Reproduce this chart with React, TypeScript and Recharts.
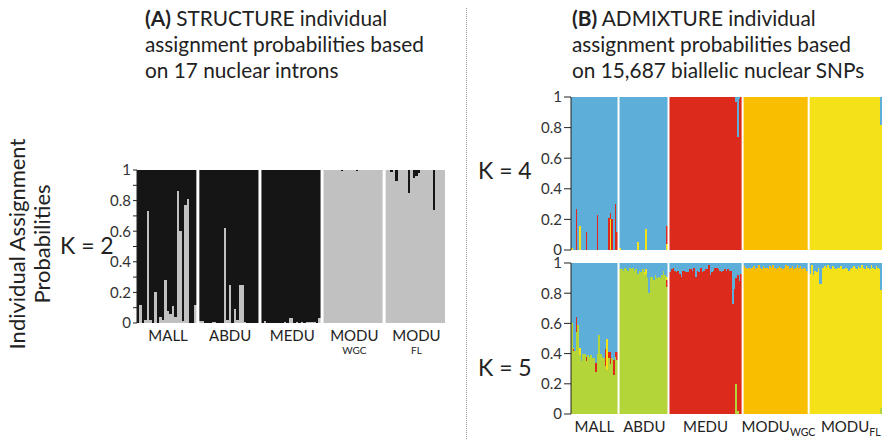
import React from "react";
import { BarChart, Bar, XAxis, YAxis, ReferenceLine } from "recharts";

const FONT = "Lato, 'Open Sans', sans-serif";

const groupNames = ["MALL", "ABDU", "MEDU", "MODU", "MODU"];
const groupSubs = ["", "", "", "WGC", "FL"];
const groupShift = [0, 0, 0, 2, 5];

// (A) STRUCTURE, K = 2: share of the grey cluster per individual, black is the rest
const strMallGrey = [0, 0.12, 0, 0.02, 0.73, 0.02, 0, 0.2, 0, 0.04, 0.02, 0.28, 0.08, 0.06, 0.11, 0.04, 0.86, 0.6, 0.01, 0.77, 0.81, 0, 0, 0.12];
const strAbduGrey = [0.01, 0.01, 0, 0, 0, 0.005, 0.005, 0, 0, 0, 0.62, 0.02, 0.25, 0, 0.09, 0.02, 0.25, 0.25, 0.005, 0, 0, 0, 0, 0];
const strMeduGrey = [0, 0.01, 0, 0, 0, 0, 0, 0, 0, 0.005, 0, 0.03, 0.03, 0, 0.005, 0, 0.005, 0, 0.005, 0.005, 0.005, 0.005, 0, 0.035];
const strWgcGrey = [1, 1, 1, 1, 1, 1, 1, 0.995, 1, 1, 1, 1, 1, 0.995, 1, 1, 1, 1, 1, 1, 1, 1, 1, 1];
const strFlGrey = [1, 1, 0.99, 1, 0.93, 1, 1, 1, 1, 0.85, 1, 0.95, 0.96, 0.98, 1, 1, 1, 1, 1, 0.74, 1, 1, 1, 1];

// (B) ADMIXTURE, sample sizes per group
const snpCounts = [29, 30, 45, 40, 45];

// K = 4: minor shares, the main cluster of each group takes the rest
const k4MallRed = [0, 0, 0, 0.27, 0, 0, 0, 0, 0, 0.12, 0, 0, 0, 0, 0, 0, 0.23, 0, 0, 0, 0, 0, 0, 0.21, 0.04, 0.2, 0, 0.3, 0.12];
const k4MallYellow = [0.01, 0, 0, 0, 0, 0.16, 0, 0, 0, 0, 0, 0, 0, 0, 0, 0, 0, 0, 0, 0, 0, 0, 0, 0, 0.2, 0, 0, 0, 0];
const k4AbduRed = [0, 0, 0, 0, 0, 0, 0, 0, 0, 0, 0, 0, 0, 0, 0, 0, 0, 0, 0, 0, 0, 0, 0, 0, 0, 0, 0, 0, 0, 0.12];
const k4AbduYellow = [0.01, 0, 0, 0, 0, 0, 0, 0, 0, 0, 0, 0.05, 0, 0, 0, 0, 0.14, 0, 0, 0, 0, 0, 0, 0, 0, 0, 0, 0, 0, 0.04];
const k4MeduBlue = [0, 0, 0, 0, 0, 0, 0, 0, 0, 0, 0, 0, 0, 0, 0, 0, 0, 0, 0, 0, 0, 0, 0, 0, 0, 0, 0, 0, 0, 0, 0, 0, 0, 0, 0, 0, 0, 0, 0, 0, 0, 0.03, 0.26, 0.01, 0];
const k4FlBlue = [0, 0, 0, 0, 0, 0, 0, 0, 0, 0, 0, 0, 0, 0, 0, 0, 0, 0, 0, 0, 0, 0, 0, 0, 0, 0, 0, 0, 0, 0, 0, 0, 0, 0, 0, 0, 0, 0, 0, 0, 0, 0, 0, 0, 0.18];

// K = 5: blue takes the rest in every group
const k5MallGreen = [0.6, 0.42, 0.42, 0.54, 0.59, 0.39, 0.35, 0.4, 0.4, 0.35, 0.39, 0.38, 0.39, 0.37, 0.37, 0.28, 0.4, 0.52, 0.4, 0.38, 0.37, 0.32, 0.29, 0.37, 0.33, 0.37, 0.26, 0.38, 0.36];
const k5MallRed = [0, 0.01, 0, 0.1, 0, 0, 0, 0, 0, 0.03, 0, 0, 0, 0, 0, 0.06, 0, 0, 0, 0, 0, 0.11, 0, 0.04, 0.08, 0, 0.1, 0.03, 0.05];
const k5MallYellow = [0, 0.01, 0, 0, 0, 0.05, 0, 0, 0, 0, 0, 0, 0, 0, 0, 0, 0, 0, 0, 0, 0, 0, 0.21, 0, 0, 0, 0, 0, 0];
const k5AbduGreen = [0.96, 0.96, 0.95, 0.97, 0.96, 0.95, 0.97, 0.96, 0.97, 0.95, 0.96, 0.93, 0.95, 0.94, 0.96, 0.92, 0.93, 0.9, 0.8, 0.91, 0.91, 0.89, 0.92, 0.9, 0.91, 0.9, 0.92, 0.95, 0.92, 0.84];
const k5AbduRed = [0, 0, 0, 0, 0, 0, 0, 0, 0, 0, 0, 0, 0, 0, 0, 0, 0, 0, 0, 0, 0, 0, 0, 0, 0, 0, 0, 0, 0, 0.05];
const k5AbduYellow = [0, 0, 0, 0, 0, 0, 0, 0, 0, 0, 0, 0, 0, 0, 0, 0.02, 0.03, 0, 0, 0, 0, 0, 0, 0, 0, 0, 0, 0, 0, 0.02];
const k5MeduGreen = [0, 0, 0, 0, 0, 0, 0, 0, 0, 0, 0, 0, 0, 0, 0, 0, 0, 0, 0, 0, 0, 0, 0, 0, 0, 0, 0, 0, 0, 0, 0, 0, 0, 0, 0, 0, 0, 0, 0, 0, 0, 0.2, 0.02, 0, 0];
const k5MeduRed = [0.94, 0.96, 0.97, 0.95, 0.94, 0.95, 0.93, 0.91, 0.95, 0.95, 0.94, 0.94, 0.96, 0.96, 0.95, 0.97, 0.91, 0.95, 0.94, 0.97, 0.94, 0.95, 0.96, 0.96, 0.99, 0.92, 0.94, 0.95, 0.97, 0.97, 0.96, 0.95, 0.94, 0.95, 0.96, 0.95, 0.96, 0.95, 0.95, 0.73, 0.83, 0.7, 0.9, 0.88, 0.93];
const k5WgcOrange = [0.98, 0.97, 0.96, 0.97, 0.96, 0.97, 0.98, 0.96, 0.97, 0.99, 0.97, 0.96, 0.98, 0.97, 0.97, 0.96, 0.98, 0.97, 0.99, 0.97, 0.96, 0.97, 0.98, 0.97, 0.96, 0.97, 0.99, 0.98, 0.96, 0.97, 0.98, 0.96, 0.97, 0.99, 0.97, 0.98, 0.96, 0.97, 0.96, 0.95];
const k5FlYellow = [0.93, 0.99, 0.92, 0.95, 0.94, 0.97, 0.86, 0.86, 0.97, 0.98, 0.97, 0.99, 0.97, 0.96, 0.98, 0.97, 0.96, 0.97, 0.97, 0.98, 0.96, 0.96, 0.97, 0.96, 0.95, 0.96, 0.97, 0.98, 0.97, 0.96, 0.98, 0.97, 0.99, 0.97, 0.96, 0.98, 0.97, 0.96, 0.99, 0.97, 0.96, 0.98, 0.97, 0.96, 0.78];
const k5FlGreen = [0, 0, 0, 0, 0, 0, 0, 0, 0, 0, 0, 0, 0, 0, 0, 0, 0, 0, 0, 0, 0, 0, 0, 0, 0, 0, 0, 0, 0, 0, 0, 0, 0, 0, 0, 0, 0, 0, 0, 0, 0, 0, 0, 0, 0.04];

const yTicksA = [0, 0.1, 0.2, 0.3, 0.4, 0.5, 0.6, 0.7, 0.8, 0.9, 1];
const yLabelsA = [0, 0.2, 0.4, 0.6, 0.8, 1];
const yTicksB = [0, 0.2, 0.4, 0.6, 0.8, 1];

const COLORS: Record<string, string> = {
  grey: "#c0c1c0",
  black: "#151515",
  blue: "#5daed9",
  red: "#dc2b1c",
  orange: "#fabe00",
  yellow: "#f4e117",
  green: "#b3d539",
};

type GroupSpec = { n: number; main: string; parts: Record<string, number[]> };

function buildRows(specs: GroupSpec[]) {
  const rows: any[] = [];
  const mids: string[] = [];
  const gaps: string[] = [];
  specs.forEach((g, gi) => {
    if (gi > 0) {
      rows.push({ id: `gap-${gi}` });
      gaps.push(`gap-${gi}`);
    }
    for (let i = 0; i < g.n; i++) {
      const row: any = { id: `${gi}-${i}` };
      let rest = 1;
      Object.entries(g.parts).forEach(([k, arr]) => {
        row[k] = arr[i] || 0;
        rest -= row[k];
      });
      row[g.main] = Math.max(0, rest);
      rows.push(row);
    }
    mids.push(`${gi}-${Math.floor(g.n / 2)}`);
  });
  return { rows, mids, gaps };
}

const panelA = buildRows([
  { n: strMallGrey.length, main: "black", parts: { grey: strMallGrey } },
  { n: strAbduGrey.length, main: "black", parts: { grey: strAbduGrey } },
  { n: strMeduGrey.length, main: "black", parts: { grey: strMeduGrey } },
  { n: strWgcGrey.length, main: "black", parts: { grey: strWgcGrey } },
  { n: strFlGrey.length, main: "black", parts: { grey: strFlGrey } },
]);

const panelK4 = buildRows([
  { n: snpCounts[0], main: "blue", parts: { red: k4MallRed, yellow: k4MallYellow } },
  { n: snpCounts[1], main: "blue", parts: { red: k4AbduRed, yellow: k4AbduYellow } },
  { n: snpCounts[2], main: "red", parts: { blue: k4MeduBlue } },
  { n: snpCounts[3], main: "orange", parts: {} },
  { n: snpCounts[4], main: "yellow", parts: { blue: k4FlBlue } },
]);

const panelK5 = buildRows([
  { n: snpCounts[0], main: "blue", parts: { green: k5MallGreen, red: k5MallRed, yellow: k5MallYellow } },
  { n: snpCounts[1], main: "blue", parts: { green: k5AbduGreen, red: k5AbduRed, yellow: k5AbduYellow } },
  { n: snpCounts[2], main: "blue", parts: { green: k5MeduGreen, red: k5MeduRed } },
  { n: snpCounts[3], main: "blue", parts: { orange: k5WgcOrange } },
  { n: snpCounts[4], main: "blue", parts: { green: k5FlGreen, yellow: k5FlYellow } },
]);

function GroupTick(props: any) {
  const { x, y, payload, stacked } = props;
  const gi = Number(String(payload.value).split("-")[0]);
  const name = groupNames[gi];
  const sub = groupSubs[gi];
  if (stacked) {
    return (
      <g fontFamily={FONT} fill="#222">
        <text x={x} y={y + 10} textAnchor="middle" fontSize={15}>{name}</text>
        {sub && <text x={x} y={y + 23} textAnchor="middle" fontSize={10}>{sub}</text>}
      </g>
    );
  }
  return (
    <text x={x} y={y + 10} dx={groupShift[gi]} textAnchor="middle" fontFamily={FONT} fontSize={15} fill="#222">
      <tspan>{name}</tspan>
      {sub && <tspan fontSize={10.5} dy={4}>{sub}</tspan>}
    </text>
  );
}

// each individual tiles its whole band; crisp edges so neighbours meet without seams
const bandShape = (plotLeft: number, bandW: number) => (p: any) => {
  if (!p.height || p.height <= 0) return <g />;
  const x = typeof p.index === "number" ? plotLeft + p.index * bandW : p.x;
  return <rect x={x} y={p.y} width={bandW} height={p.height} fill={p.fill} shapeRendering="crispEdges" />;
};

function Panel({ data, order, left, top, width, height, margin, yWidth, yTicks, yLabels, tickSize, xHeight, stacked, showX, sepWidth }: any) {
  const plotLeft = margin.left + yWidth;
  const plotW = width - margin.left - margin.right - yWidth;
  const shape = bandShape(plotLeft, plotW / data.rows.length);
  return (
    <div style={{ position: "absolute", left, top }}>
      <BarChart width={width} height={height} data={data.rows} margin={margin} barCategoryGap={0} barGap={0}>
        <XAxis
          dataKey="id"
          hide={!showX}
          ticks={data.mids}
          interval={0}
          axisLine={false}
          tickLine={false}
          height={xHeight}
          tick={(p: any) => <GroupTick {...p} stacked={stacked} />}
        />
        <YAxis
          type="number"
          domain={[0, 1]}
          ticks={yTicks}
          interval={0}
          width={yWidth}
          tickSize={tickSize}
          stroke="#222"
          tick={{ fill: "#333", fontSize: 15, fontFamily: FONT }}
          tickFormatter={(v: number) => (yLabels.includes(v) ? String(v) : "")}
        />
        {order.map((k: string) => (
          <Bar key={k} dataKey={k} stackId="s" fill={COLORS[k]} shape={shape} isAnimationActive={false} />
        ))}
        {data.gaps.map((g: string) => (
          <ReferenceLine key={g} x={g} stroke="#fff" strokeWidth={sepWidth} />
        ))}
      </BarChart>
    </div>
  );
}

export default function App() {
  const text = { fontFamily: FONT, color: "#222" };
  return (
    <div style={{ position: "absolute", left: 0, top: 0, width: 883, height: 439, background: "#fff", overflow: "hidden", ...text }}>
      <div style={{ position: "absolute", left: 145, top: 5, fontSize: 20.8, lineHeight: "26px" }}>
        <b>(A)</b> STRUCTURE individual<br />assignment probabilities based<br />on 17 nuclear introns
      </div>
      <div style={{ position: "absolute", left: 572, top: 5, fontSize: 20.8, lineHeight: "26px" }}>
        <b>(B)</b> ADMIXTURE individual<br />assignment probabilities based<br />on 15,687 biallelic nuclear SNPs
      </div>
      <div style={{ position: "absolute", left: 466, top: 8, height: 431, borderLeft: "1px dotted #999" }} />
      <div
        style={{
          position: "absolute",
          left: 29 - 130,
          top: 244 - 25,
          width: 260,
          height: 50,
          transform: "rotate(-90deg)",
          textAlign: "center",
          fontSize: 22,
          lineHeight: "25px",
        }}
      >
        Individual Assignment<br />Probabilities
      </div>
      <div style={{ position: "absolute", left: 60, top: 230, fontSize: 23, lineHeight: "30px" }}>K = 2</div>
      <div style={{ position: "absolute", left: 478, top: 155, fontSize: 23, lineHeight: "30px" }}>K = 4</div>
      <div style={{ position: "absolute", left: 478, top: 352, fontSize: 23, lineHeight: "30px" }}>K = 5</div>

      <Panel
        data={panelA}
        order={["grey", "black"]}
        left={100}
        top={160}
        width={350}
        height={200}
        margin={{ top: 10, right: 5, bottom: 0, left: 0 }}
        yWidth={37}
        yTicks={yTicksA}
        yLabels={yLabelsA}
        tickSize={4}
        xHeight={37}
        sepWidth={3}
        stacked
        showX
      />
      <Panel
        data={panelK4}
        order={["yellow", "orange", "red", "blue"]}
        left={530}
        top={87}
        width={353}
        height={176}
        margin={{ top: 10, right: 1, bottom: 13, left: 0 }}
        yWidth={41}
        yTicks={yTicksB}
        yLabels={yTicksB}
        tickSize={7}
        xHeight={0}
        sepWidth={2}
        showX={false}
      />
      <Panel
        data={panelK5}
        order={["green", "red", "orange", "yellow", "blue"]}
        left={530}
        top={253}
        width={353}
        height={186}
        margin={{ top: 10, right: 1, bottom: 0, left: 0 }}
        yWidth={41}
        yTicks={yTicksB}
        yLabels={yTicksB}
        tickSize={7}
        xHeight={25}
        sepWidth={2}
        showX
      />
    </div>
  );
}
